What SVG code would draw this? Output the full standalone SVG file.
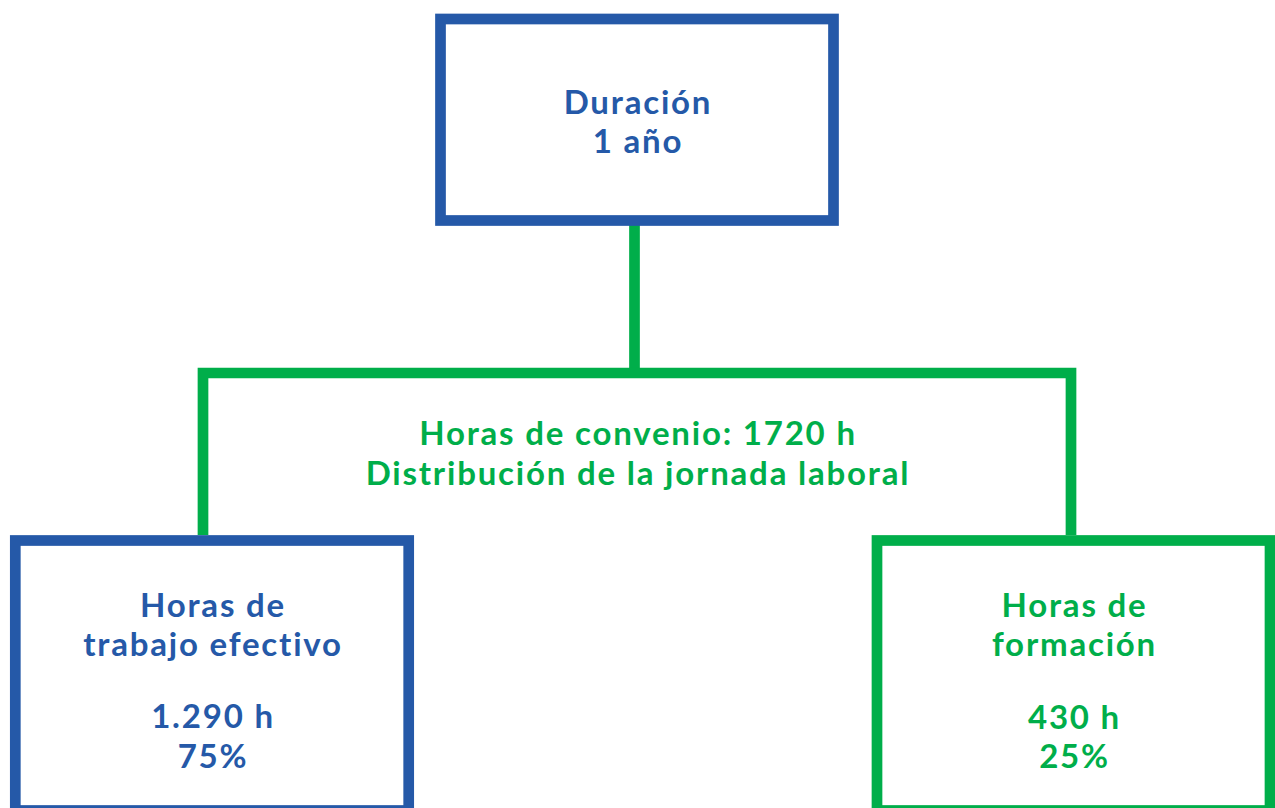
<svg xmlns="http://www.w3.org/2000/svg" width="1275" height="808" viewBox="0 0 1275 808">
<style>
.blue{fill:none;stroke:#2559A8;stroke-width:10.7}
.green{fill:none;stroke:#00AE4A;stroke-width:10.7}
text{font-family:Lato,"Liberation Sans",sans-serif;font-weight:bold;font-size:33px;text-anchor:middle;letter-spacing:1.8px}
.tb{fill:#2559A8}
.tg{fill:#00AE4A}
</style>
<rect width="1275" height="808" fill="#fff"/>
<g id="connectors">
<line class="green" x1="634.5" y1="225" x2="634.5" y2="373"/>
<polyline class="green" points="203,535 203,373 1071,373 1071,535"/>
</g>
<g id="duracion">
<rect class="blue" x="440.5" y="19" width="393" height="201.5"/>
<text class="tb" x="638" y="114">Duración</text>
<text class="tb" x="638" y="153">1 año</text>
</g>
<g id="convenio">
<text class="tg" x="638" y="445">Horas de convenio: 1720 h</text>
<text class="tg" x="638" y="485">Distribución de la jornada laboral</text>
</g>
<g id="trabajo">
<rect class="blue" x="15.3" y="540.5" width="393.4" height="270"/>
<text class="tb" x="213" y="617">Horas de</text>
<text class="tb" x="213" y="656">trabajo efectivo</text>
<text class="tb" x="213" y="728">1.290 h</text>
<text class="tb" x="213" y="768">75%</text>
</g>
<g id="formacion">
<rect class="green" x="877" y="540.5" width="393" height="270"/>
<text class="tg" x="1074.5" y="617">Horas de</text>
<text class="tg" x="1074.5" y="656">formación</text>
<text class="tg" x="1074.5" y="729">430 h</text>
<text class="tg" x="1074.5" y="768">25%</text>
</g>
</svg>
